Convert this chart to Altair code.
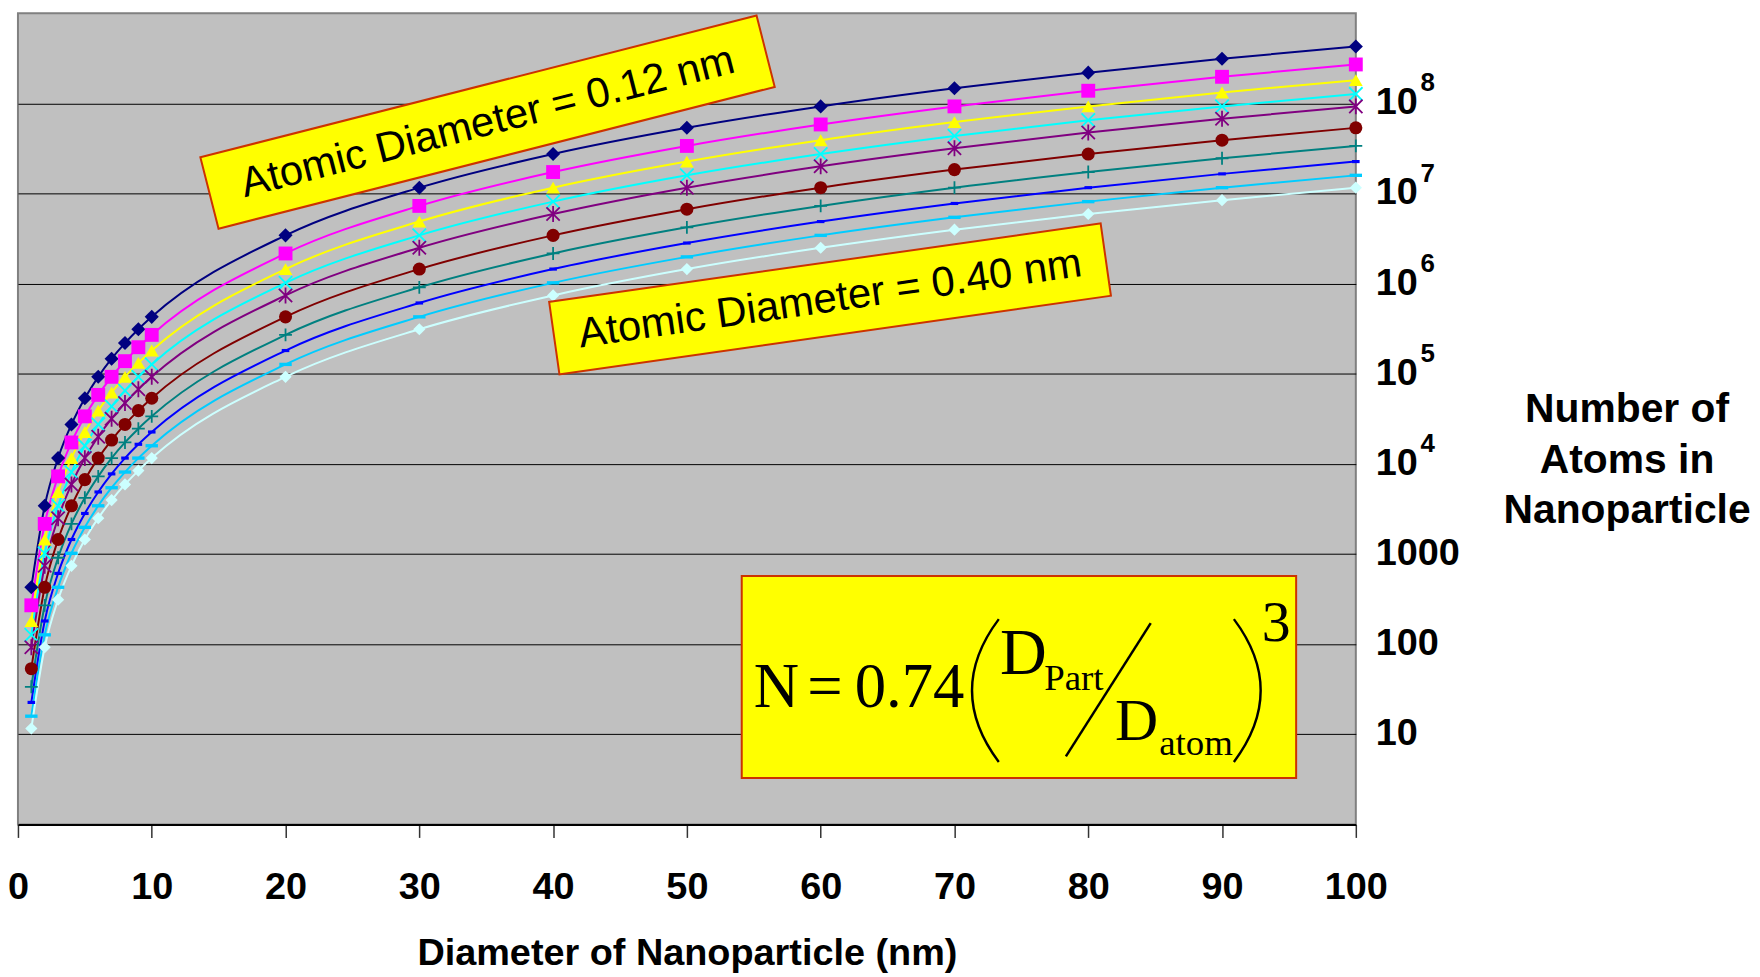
import altair as alt
import pandas as pd

# ---------------- data ----------------
diameters = [1, 2, 3, 4, 5, 6, 7, 8, 9, 10, 20, 30, 40, 50, 60, 70, 80, 90, 100]
series_names = ["0.12 nm", "0.14 nm", "0.16 nm", "0.18 nm", "0.20 nm",
                "0.24 nm", "0.28 nm", "0.32 nm", "0.36 nm", "0.40 nm"]

atoms_012 = [428, 3430, 11600, 27400, 53500, 92500, 147000, 219000, 312000, 428000,
             3.43e6, 1.16e7, 2.74e7, 5.35e7, 9.25e7, 1.47e8, 2.19e8, 3.12e8, 4.28e8]
atoms_014 = [270, 2160, 7280, 17300, 33700, 58300, 92500, 138000, 197000, 270000,
             2.16e6, 7.28e6, 1.73e7, 3.37e7, 5.83e7, 9.25e7, 1.38e8, 1.97e8, 2.70e8]
atoms_016 = [181, 1450, 4880, 11600, 22600, 39000, 62000, 92500, 132000, 181000,
             1.45e6, 4.88e6, 1.16e7, 2.26e7, 3.90e7, 6.20e7, 9.25e7, 1.32e8, 1.81e8]
atoms_018 = [127, 1020, 3430, 8120, 15900, 27400, 43500, 65000, 92500, 127000,
             1.02e6, 3.43e6, 8.12e6, 1.59e7, 2.74e7, 4.35e7, 6.50e7, 9.25e7, 1.27e8]
atoms_020 = [92.5, 740, 2500, 5920, 11600, 20000, 31700, 47400, 67400, 92500,
             7.40e5, 2.50e6, 5.92e6, 1.16e7, 2.00e7, 3.17e7, 4.74e7, 6.74e7, 9.25e7]
atoms_024 = [53.5, 428, 1450, 3430, 6690, 11600, 18400, 27400, 39000, 53500,
             4.28e5, 1.45e6, 3.43e6, 6.69e6, 1.16e7, 1.84e7, 2.74e7, 3.90e7, 5.35e7]
atoms_028 = [33.7, 270, 910, 2160, 4210, 7280, 11600, 17300, 24600, 33700,
             2.70e5, 9.10e5, 2.16e6, 4.21e6, 7.28e6, 1.16e7, 1.73e7, 2.46e7, 3.37e7]
atoms_032 = [22.6, 181, 610, 1450, 2820, 4880, 7750, 11600, 16500, 22600,
             1.81e5, 6.10e5, 1.45e6, 2.82e6, 4.88e6, 7.75e6, 1.16e7, 1.65e7, 2.26e7]
atoms_036 = [15.9, 127, 428, 1020, 1980, 3430, 5440, 8120, 11600, 15900,
             1.27e5, 4.28e5, 1.02e6, 1.98e6, 3.43e6, 5.44e6, 8.12e6, 1.16e7, 1.59e7]
atoms_040 = [11.6, 92.5, 312, 740, 1450, 2500, 3970, 5920, 8430, 11600,
             9.25e4, 3.12e5, 7.40e5, 1.45e6, 2.50e6, 3.97e6, 5.92e6, 8.43e6, 1.16e7]

x_ticks = [0, 10, 20, 30, 40, 50, 60, 70, 80, 90, 100]
y_grid = [10, 100, 1000, 1e4, 1e5, 1e6, 1e7, 1e8]
y_label_values = [1e8, 1e7, 1e6, 1e5, 1e4, 1000, 100, 10]
y_label_texts = ["10", "10", "10", "10", "10", "1000", "100", "10"]
y_exp_values = [1e8, 1e7, 1e6, 1e5, 1e4]
y_exp_texts = ["8", "7", "6", "5", "4"]

# annotation anchors (data coordinates)
box1_anchor = {"x": 35.1, "y": 6.19e7, "t": "Atomic Diameter = 0.12 nm"}
box2_anchor = {"x": 60.7, "y": 6.78e5, "t": "Atomic Diameter = 0.40 nm"}
formula_box = {"x": 54.1, "x2": 95.54, "y": 3.28, "y2": 570}

# ---------------- styles ----------------
colors = ["#000080", "#FF00FF", "#FFFF00", "#00FFFF", "#800080",
          "#800000", "#008080", "#0000FF", "#00CCFF", "#CCFFFF"]
XPATH = "M-1,-1L1,1M-1,1L1,-1"
ASTER = "M-1,-1L1,1M-1,1L1,-1M0,-1.2L0,1.2"
PLUS = "M-1,0L1,0M0,-1L0,1"
BDASH = "M-0.6,-0.25L0.6,-0.25L0.6,0.25L-0.6,0.25Z"
LDASH = "M-1,-0.27L1,-0.27L1,0.27L-1,0.27Z"
DIAM = "M-1,0L0,-1L1,0L0,1Z"
shapes = [DIAM, "square", "triangle-up", XPATH, ASTER,
          "circle", PLUS, BDASH, LDASH, DIAM]
sizes = [200, 150, 215, 140, 140, 160, 170, 190, 190, 195]
filled_series = [s for s, sh in zip(series_names, shapes) if sh not in (XPATH, ASTER, PLUS)]
stroked_series = [s for s in series_names if s not in filled_series]

all_atoms = [atoms_012, atoms_014, atoms_016, atoms_018, atoms_020,
             atoms_024, atoms_028, atoms_032, atoms_036, atoms_040]
rows = []
for name, vals in zip(series_names, all_atoms):
    for d, n in zip(diameters, vals):
        rows.append({"series": name, "D": d, "N": n})
df = pd.DataFrame(rows)

W, H = 1344, 815
SANS = "Liberation Sans"
SERIF = "Liberation Serif"
BOX_FILL = "#FFFF00"
BOX_STROKE = "#CC3300"

xs = alt.Scale(domain=[0, 100], nice=False, zero=False)
ys = alt.Scale(type="log", domain=[1, 1e9], nice=False)
cscale = alt.Scale(domain=series_names, range=colors)
shscale = alt.Scale(domain=series_names, range=shapes)
szscale = alt.Scale(domain=series_names, range=sizes)

x_axis = alt.Axis(values=x_ticks, grid=False, tickSize=13, tickColor="#333333", tickWidth=1.5,
                  domainColor="#000000", domainWidth=2, labelFont=SANS, labelFontSize=38,
                  labelFontWeight="bold", labelColor="black", labelPadding=31,
                  labelFlush=False, labelOverlap=False,
                  title="Diameter of Nanoparticle (nm)", titleFont=SANS, titleFontSize=38,
                  titleFontWeight="bold", titleColor="black", titleBaseline="alphabetic",
                  titleY=141)
y_axis = alt.Axis(orient="right", values=y_grid, grid=True, gridColor="#000000", gridWidth=1,
                  labels=False, ticks=False, domain=False,
                  title=["Number of", "Atoms in", "Nanoparticle"], titleAngle=0,
                  titleAlign="center", titleBaseline="alphabetic", titleX=272, titleY=410,
                  titleFont=SANS, titleFontSize=41, titleFontWeight="bold",
                  titleColor="black", titleLineHeight=51)

lines = alt.Chart(df).mark_line(strokeWidth=2, interpolate="monotone").encode(
    x=alt.X("D:Q", scale=xs, axis=x_axis),
    y=alt.Y("N:Q", scale=ys, axis=y_axis),
    color=alt.Color("series:N", scale=cscale, legend=None),
    detail="series:N",
)

def marker_enc():
    return dict(
        x=alt.X("D:Q", scale=xs),
        y=alt.Y("N:Q", scale=ys),
        color=alt.Color("series:N", scale=cscale, legend=None),
        shape=alt.Shape("series:N", scale=shscale, legend=None),
        size=alt.Size("series:N", scale=szscale, legend=None),
    )

filled_pts = alt.Chart(df).transform_filter(
    alt.FieldOneOfPredicate(field="series", oneOf=filled_series)
).mark_point(filled=True, opacity=1).encode(**marker_enc())

stroked_pts = alt.Chart(df).transform_filter(
    alt.FieldOneOfPredicate(field="series", oneOf=stroked_series)
).mark_point(filled=False, opacity=1, strokeWidth=1.8).encode(**marker_enc())

# custom y labels with superscripts
ylab_df = pd.DataFrame({"x": [100] * len(y_label_values), "y": y_label_values, "t": y_label_texts})
yexp_df = pd.DataFrame({"x": [100] * len(y_exp_values), "y": y_exp_values, "t": y_exp_texts})

def pos(xf="x", yf="y"):
    return dict(x=alt.X(f"{xf}:Q", scale=xs), y=alt.Y(f"{yf}:Q", scale=ys))

ylabels = alt.Chart(ylab_df).mark_text(
    align="left", baseline="middle", dx=20, font=SANS, fontSize=38, fontWeight="bold", color="black"
).encode(text="t:N", **pos())
yexps = alt.Chart(yexp_df).mark_text(
    align="left", baseline="alphabetic", dx=65, dy=-12, font=SANS, fontSize=26, fontWeight="bold",
    color="black"
).encode(text="t:N", **pos())

# rotated annotation boxes
def rot_box(anchor, half_h, width, angle):
    d = pd.DataFrame([anchor])
    path = f"M-1,-{half_h}L1,-{half_h}L1,{half_h}L-1,{half_h}Z"
    box = alt.Chart(d).mark_point(
        shape=path, size=width * width, angle=angle, filled=True, fill=BOX_FILL,
        stroke=BOX_STROKE, strokeWidth=2, opacity=1
    ).encode(**pos())
    txt = alt.Chart(d).mark_text(
        angle=angle, align="center", baseline="middle", font=SANS, fontSize=42, color="black"
    ).encode(text="t:N", **pos())
    return [box, txt]

box1 = rot_box(box1_anchor, 0.1283, 576.6, 345.7)
box2 = rot_box(box2_anchor, 0.1312, 559.6, 351.9)

# formula box
fbox = alt.Chart(pd.DataFrame([formula_box])).mark_rect(
    fill=BOX_FILL, stroke=BOX_STROKE, strokeWidth=2
).encode(x=alt.X("x:Q", scale=xs), x2="x2:Q",
         y=alt.Y("y:Q", scale=ys), y2="y2:Q")

f_main = pd.DataFrame({"t": ["N", "=", "0.74"], "x": [54.99, 59.0, 62.54], "y": [20.07, 20.07, 20.07]})
f_num = pd.DataFrame({"t": ["D"], "x": [73.4], "y": [47.3]})
f_den = pd.DataFrame({"t": ["D"], "x": [82.0], "y": [8.68]})
f_subs = pd.DataFrame({"t": ["Part", "atom"], "x": [76.71, 85.3], "y": [30.9, 5.93]})
f_pow = pd.DataFrame({"t": ["3"], "x": [92.97], "y": [107.4]})
f_parens = pd.DataFrame({"side": ["left", "right"], "x": [72.3, 91.9], "y": [30.6, 30.6]})
f_slash = pd.DataFrame({"x": [84.67], "y": [171.4], "x2": [78.33], "y2": [5.69]})

def ftext(d, size):
    return alt.Chart(d).mark_text(
        align="left", baseline="alphabetic", font=SERIF, fontSize=size, color="black"
    ).encode(text="t:N", **pos())

LPAREN = "M0.19,-1Q-0.56,0 0.19,1"
RPAREN = "M-0.19,-1Q0.56,0 -0.19,1"
parens = alt.Chart(f_parens).mark_point(filled=False, opacity=1, strokeWidth=2.4, color="black",
                                         size=143.5 * 143.5).encode(
    shape=alt.Shape("side:N", scale=alt.Scale(domain=["left", "right"], range=[LPAREN, RPAREN]),
                    legend=None),
    **pos())
slash = alt.Chart(f_slash).mark_rule(color="black", strokeWidth=2.5).encode(
    x=alt.X("x:Q", scale=xs), y=alt.Y("y:Q", scale=ys),
    x2="x2:Q", y2="y2:Q")

formula = [fbox, ftext(f_main, 63), ftext(f_num, 65), ftext(f_den, 60), ftext(f_subs, 37),
           ftext(f_pow, 58), parens, slash]

chart = alt.layer(
    lines, filled_pts, stroked_pts, ylabels, yexps, *box1, *box2, *formula
).resolve_scale(shape="independent").properties(
    width=W, height=H,
    autosize=alt.AutoSizeParams(type="none"),
    padding={"left": 10, "top": 3, "right": 398, "bottom": 151},
).configure_view(fill="#C0C0C0", stroke="#808080", strokeWidth=2)

chart.save("out.html", embed_options={"renderer": "svg", "actions": False})
